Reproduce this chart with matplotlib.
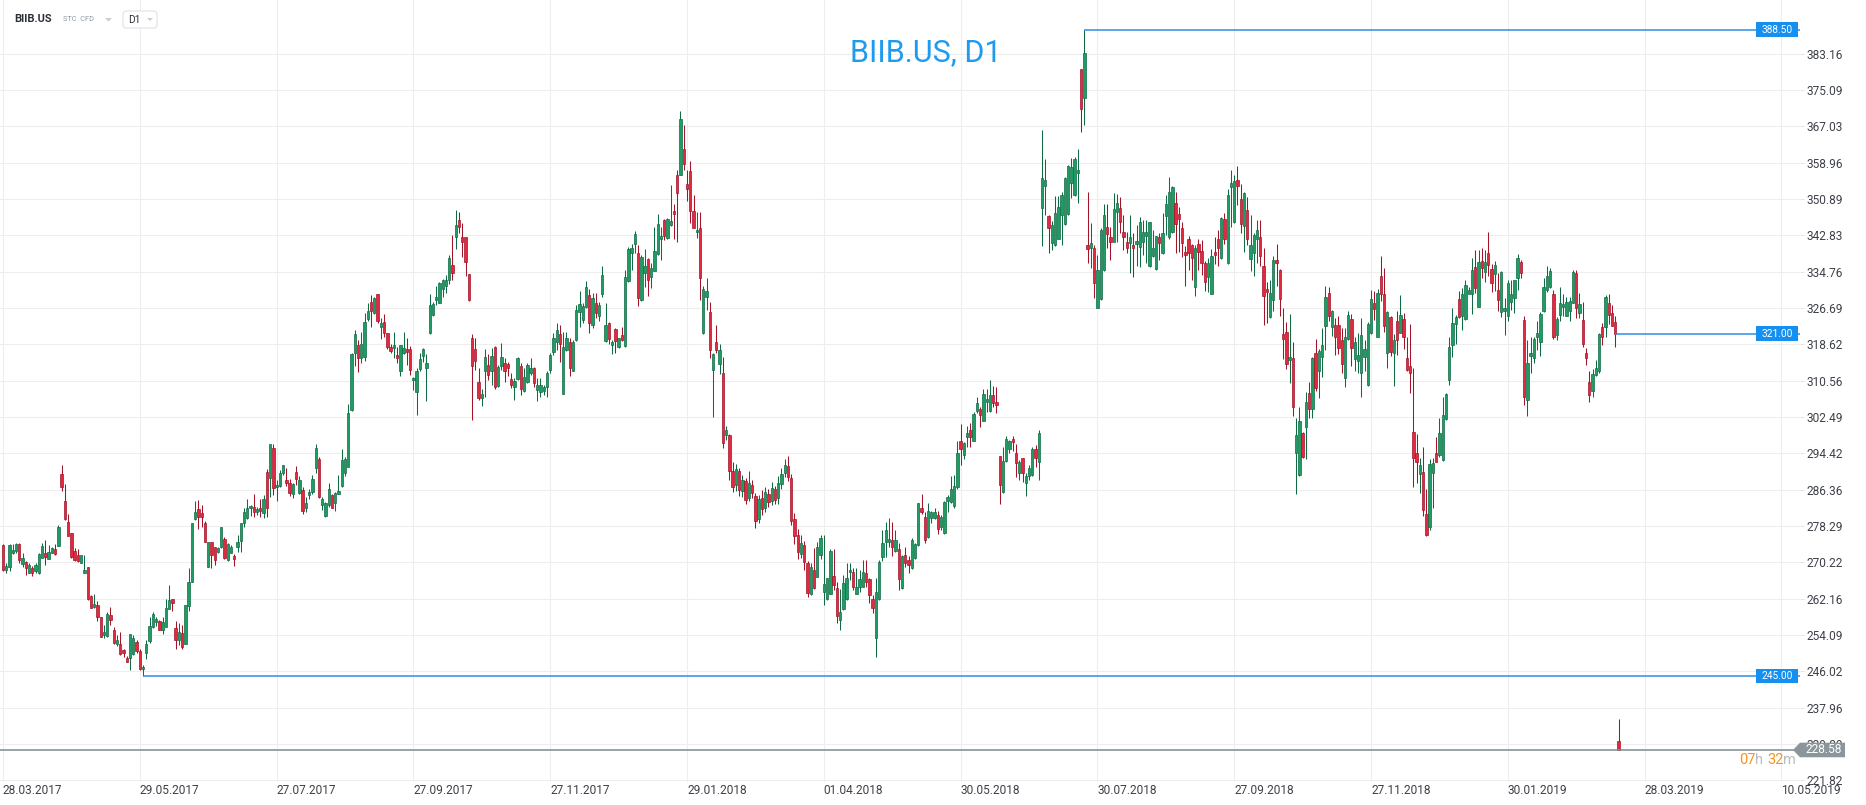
import matplotlib
matplotlib.use("Agg")
import matplotlib.pyplot as plt
import numpy as np
from matplotlib.patches import Polygon, Rectangle, FancyBboxPatch
from matplotlib.text import Annotation
from matplotlib.transforms import IdentityTransform

plt.rcParams['font.family'] = ['Roboto', 'DejaVu Sans']

# daily candles BIIB.US, 28.03.2017 .. 21.03.2019
opens = [
    274.1, 268.5, 269.1, 272.4, 272.8, 274.4, 269.9, 270.3, 267.9, 269.0,
    268.2, 267.8, 271.3, 272.4, 271.0, 272.4, 273.2, 273.9, 289.8, 283.8,
    279.1, 276.7, 272.8, 271.9, 270.0, 267.9, 269.1, 262.8, 260.4, 260.8,
    258.0, 254.2, 253.9, 258.5, 255.2, 252.2, 252.2, 250.8, 249.1, 249.1,
    249.9, 252.5, 250.5, 246.5, 250.0, 252.8, 255.9, 257.0, 257.2, 255.1,
    255.9, 259.9, 262.1, 255.6, 253.1, 254.5, 252.2, 260.5, 265.9, 279.8,
    282.1, 281.1, 278.9, 269.3, 274.7, 273.7, 272.6, 273.6, 275.3, 270.7,
    272.4, 271.6, 273.7, 275.0, 278.9, 280.0, 282.3, 282.6, 281.5, 282.2,
    281.1, 290.2, 288.9, 295.5, 287.0, 287.2, 290.0, 288.5, 287.8, 285.5,
    290.2, 285.7, 286.3, 282.2, 285.2, 285.9, 291.1, 293.1, 283.0, 280.5,
    282.9, 285.2, 283.5, 285.5, 287.2, 290.0, 291.3, 304.0, 316.8, 318.5,
    315.5, 315.9, 324.2, 328.0, 325.5, 329.8, 322.4, 323.6, 321.2, 318.0,
    317.7, 316.3, 312.8, 316.8, 317.5, 317.5, 310.6, 308.1, 313.1, 316.0,
    313.4, 321.1, 325.1, 328.5, 327.9, 330.8, 331.5, 332.9, 336.2, 342.5,
    346.2, 342.4, 342.4, 334.2, 320.0, 317.5, 310.3, 306.8, 312.6, 314.0,
    312.6, 318.0, 309.4, 313.8, 314.4, 314.3, 310.9, 309.2, 310.9, 313.8,
    308.3, 310.3, 312.3, 313.3, 308.5, 308.1, 308.3, 309.2, 312.9, 317.0,
    319.2, 320.9, 307.5, 317.4, 319.1, 312.7, 319.6, 325.9, 324.0, 327.0,
    329.6, 323.0, 327.7, 324.8, 329.9, 319.4, 323.3, 318.5, 322.0, 318.1,
    320.7, 318.3, 332.7, 338.8, 340.8, 339.0, 328.5, 334.4, 337.6, 333.6,
    334.9, 338.6, 342.0, 346.2, 342.3, 345.0, 348.2, 356.2, 356.2, 362.0,
    354.1, 357.1, 348.2, 343.5, 344.5, 321.1, 329.2, 325.9, 313.0, 319.2,
    314.2, 312.2, 298.4, 298.6, 290.5, 287.5, 290.5, 286.0, 288.2, 284.4,
    287.5, 285.0, 279.8, 284.5, 282.4, 285.5, 283.8, 286.5, 284.4, 287.6,
    290.0, 291.6, 289.0, 279.8, 276.2, 272.0, 274.0, 270.0, 263.3, 268.5,
    267.0, 271.9, 263.7, 262.0, 263.3, 267.2, 264.5, 257.4, 259.8, 262.0,
    268.0, 268.1, 263.3, 264.8, 264.8, 267.8, 266.5, 262.2, 253.4, 262.0,
    271.5, 274.8, 274.8, 275.2, 272.8, 273.1, 264.5, 271.9, 270.7, 268.9,
    271.1, 274.0, 282.2, 280.2, 275.8, 280.0, 280.0, 280.7, 278.0, 276.7,
    283.9, 283.7, 282.7, 286.9, 297.2, 294.1, 298.0, 299.6, 297.2, 303.9,
    304.2, 301.7, 305.9, 303.9, 307.4, 305.8, 293.8, 285.9, 292.8, 295.3,
    297.5, 294.4, 290.1, 293.3, 287.8, 289.4, 289.6, 295.3, 292.4, 348.8,
    353.7, 347.1, 341.2, 340.6, 342.1, 347.3, 345.3, 347.5, 354.5, 351.8,
    356.6, 379.7, 373.4, 340.7, 340.1, 339.9, 326.6, 328.6, 335.1, 344.6,
    342.4, 341.4, 347.9, 348.8, 343.6, 341.4, 341.2, 340.7, 340.9, 340.3,
    341.4, 342.7, 335.9, 338.2, 335.3, 342.4, 338.8, 347.0, 342.4, 343.6,
    350.1, 347.5, 344.4, 339.2, 341.9, 340.6, 331.4, 341.0, 339.3, 336.7,
    333.5, 329.9, 339.1, 342.1, 337.7, 346.4, 336.6, 353.6, 345.8, 355.2,
    350.8, 344.9, 348.4, 337.5, 339.0, 341.9, 342.4, 336.0, 331.0, 324.6,
    328.4, 337.3, 335.1, 321.0, 321.4, 315.1, 315.5, 294.4, 289.6, 298.9,
    300.2, 307.9, 304.2, 316.8, 312.8, 315.9, 322.6, 330.1, 322.4, 322.9,
    322.9, 319.6, 311.1, 319.7, 324.2, 315.3, 315.0, 312.3, 315.9, 309.6,
    321.1, 327.7, 320.3, 333.8, 329.8, 316.6, 324.6, 316.6, 323.7, 321.2,
    324.2, 315.5, 313.8, 299.2, 294.4, 289.8, 290.3, 280.9, 278.0, 290.0,
    294.6, 294.0, 292.9, 302.0, 310.6, 318.5, 323.1, 328.6, 324.8, 324.2,
    329.9, 329.8, 335.7, 326.8, 337.2, 334.7, 339.0, 335.3, 334.2, 330.7,
    325.9, 326.1, 324.9, 328.1, 328.8, 333.3, 337.0, 324.0, 306.3, 316.0,
    315.5, 320.3, 319.2, 326.1, 330.7, 331.3, 329.9, 320.7, 325.1, 327.0,
    324.9, 326.1, 327.9, 334.4, 325.5, 324.0, 316.8, 310.3, 308.3, 311.8,
    312.8, 322.4, 322.4, 327.7, 325.6, 323.6, 230.5,
]
highs = [
    274.3, 270.1, 274.4, 274.4, 274.6, 274.6, 272.4, 270.6, 270.1, 269.4,
    270.0, 272.2, 274.6, 275.2, 274.1, 273.7, 274.4, 278.5, 291.8, 287.6,
    281.0, 276.7, 273.3, 273.1, 271.9, 271.9, 269.1, 263.0, 263.3, 261.7,
    258.2, 256.3, 259.1, 260.4, 255.9, 254.1, 254.8, 250.9, 249.4, 254.3,
    254.1, 253.1, 251.1, 247.4, 253.0, 258.0, 259.3, 258.2, 257.4, 258.2,
    262.2, 265.2, 262.2, 257.1, 256.7, 256.3, 260.8, 268.9, 279.0, 283.9,
    284.1, 283.0, 279.3, 274.7, 274.7, 273.7, 273.7, 278.1, 275.8, 274.6,
    274.1, 272.1, 276.3, 279.0, 282.2, 284.2, 283.0, 285.5, 282.6, 284.2,
    285.2, 290.9, 296.6, 296.6, 288.5, 290.7, 291.8, 291.1, 288.7, 287.8,
    291.6, 289.3, 286.9, 284.8, 286.4, 289.6, 296.6, 293.7, 284.8, 283.7,
    287.9, 285.5, 285.9, 289.6, 295.3, 293.7, 305.4, 316.8, 321.9, 319.6,
    321.4, 325.5, 327.9, 329.6, 329.2, 329.8, 324.4, 325.4, 321.2, 318.8,
    321.4, 318.1, 318.4, 321.4, 320.0, 318.3, 311.4, 313.3, 316.8, 317.7,
    316.5, 329.9, 328.1, 331.6, 332.5, 333.1, 334.0, 338.5, 342.9, 348.4,
    348.1, 345.6, 342.5, 334.2, 320.9, 320.0, 313.3, 308.6, 317.5, 316.5,
    317.7, 318.3, 314.0, 319.0, 315.5, 314.6, 312.3, 311.1, 315.7, 314.4,
    313.3, 314.4, 315.5, 313.6, 311.1, 311.1, 309.6, 312.6, 316.8, 321.1,
    323.3, 322.9, 321.4, 321.3, 320.1, 319.6, 327.4, 330.5, 327.7, 332.7,
    330.9, 330.0, 330.0, 328.1, 335.9, 327.7, 323.5, 319.6, 322.2, 320.1,
    322.5, 335.1, 340.3, 341.0, 343.8, 340.7, 338.5, 339.8, 337.7, 336.6,
    344.7, 347.5, 344.7, 346.4, 346.6, 354.0, 349.7, 357.3, 370.4, 367.3,
    357.3, 359.3, 351.8, 347.9, 348.1, 331.6, 333.4, 328.1, 316.6, 322.9,
    318.6, 315.8, 300.6, 298.8, 292.5, 292.0, 291.2, 289.6, 289.0, 290.5,
    288.6, 285.6, 285.2, 286.2, 287.0, 286.4, 288.0, 287.2, 289.4, 291.2,
    293.2, 293.8, 289.8, 281.2, 277.6, 276.4, 275.0, 270.6, 270.0, 273.3,
    274.8, 276.3, 276.3, 266.7, 273.2, 273.1, 265.9, 264.2, 267.4, 270.1,
    270.0, 268.9, 268.9, 268.5, 270.7, 270.7, 266.7, 263.0, 266.7, 270.7,
    277.4, 279.2, 280.0, 279.1, 277.3, 274.6, 271.8, 273.7, 271.6, 275.6,
    274.6, 283.5, 285.4, 281.5, 283.3, 281.7, 282.4, 281.7, 280.7, 283.9,
    285.2, 289.4, 289.6, 297.2, 300.9, 297.0, 300.5, 301.2, 303.7, 307.0,
    304.6, 308.6, 308.6, 310.7, 309.4, 309.2, 293.8, 295.9, 298.3, 297.4,
    298.3, 296.6, 292.9, 293.3, 290.0, 291.8, 295.9, 296.3, 299.6, 366.2,
    359.7, 347.3, 346.1, 351.5, 351.5, 352.5, 355.8, 358.4, 359.9, 360.3,
    361.9, 379.7, 388.5, 352.5, 345.6, 340.7, 338.4, 344.4, 349.8, 349.8,
    344.7, 352.3, 352.0, 351.4, 347.3, 343.6, 347.3, 343.3, 345.1, 346.8,
    346.2, 346.2, 345.8, 344.1, 342.7, 343.3, 347.8, 351.8, 355.8, 353.8,
    352.5, 349.2, 345.8, 340.4, 342.7, 341.0, 340.6, 342.1, 341.8, 337.2,
    337.7, 339.7, 342.5, 344.0, 346.9, 347.7, 353.2, 357.3, 356.2, 358.1,
    354.3, 352.5, 351.4, 347.3, 343.3, 346.2, 346.2, 339.9, 332.5, 332.9,
    338.2, 340.9, 335.3, 326.6, 323.6, 325.3, 319.2, 302.2, 304.6, 299.2,
    308.1, 310.3, 315.9, 319.9, 317.5, 322.2, 331.6, 331.3, 326.2, 324.4,
    324.9, 322.2, 322.2, 326.1, 325.3, 320.3, 321.2, 324.4, 319.6, 323.6,
    330.7, 330.5, 330.8, 338.2, 335.5, 326.1, 324.8, 320.9, 326.1, 329.6,
    325.5, 320.3, 323.1, 313.3, 298.7, 293.3, 295.9, 286.4, 293.1, 293.3,
    298.0, 302.2, 306.9, 307.9, 320.2, 326.6, 325.1, 330.5, 331.1, 333.0,
    331.3, 337.7, 339.6, 339.6, 339.9, 339.6, 343.6, 336.5, 337.2, 334.4,
    335.0, 329.0, 333.0, 332.9, 333.0, 338.7, 337.3, 324.8, 319.6, 320.3,
    320.3, 323.7, 325.9, 333.3, 335.9, 335.5, 330.7, 324.6, 331.3, 329.8,
    329.1, 329.2, 335.1, 335.1, 330.1, 328.1, 317.7, 312.6, 313.1, 315.1,
    321.2, 323.4, 329.6, 329.8, 327.4, 324.9, 235.5,
]
lows = [
    268.3, 267.8, 268.2, 272.1, 272.2, 270.1, 269.3, 267.4, 267.9, 267.3,
    267.8, 267.6, 271.1, 269.6, 270.9, 272.2, 271.9, 273.9, 286.1, 279.6,
    276.1, 271.1, 270.6, 270.4, 270.0, 267.8, 261.9, 260.0, 260.2, 257.1,
    253.6, 253.4, 253.7, 256.3, 252.2, 251.7, 249.7, 249.3, 248.0, 246.3,
    249.7, 250.2, 246.3, 245.0, 248.7, 252.4, 255.7, 256.1, 255.1, 254.3,
    255.8, 259.8, 259.5, 251.0, 251.9, 251.0, 252.1, 259.5, 265.8, 279.6,
    277.6, 278.0, 274.7, 269.3, 268.9, 269.6, 272.2, 273.5, 270.9, 270.6,
    272.2, 269.5, 272.6, 272.6, 278.0, 279.8, 280.5, 280.2, 280.7, 280.2,
    280.1, 280.2, 284.8, 285.2, 283.9, 287.0, 289.6, 287.2, 285.0, 284.4,
    287.4, 285.4, 280.9, 281.3, 284.2, 285.5, 290.0, 284.4, 281.9, 280.4,
    282.6, 282.2, 281.7, 285.4, 287.0, 289.4, 291.3, 303.9, 313.8, 312.5,
    314.4, 315.0, 323.7, 322.5, 325.4, 323.4, 319.7, 320.3, 317.5, 316.6,
    315.5, 314.4, 311.6, 316.5, 314.0, 311.8, 308.5, 302.9, 312.6, 314.8,
    306.1, 320.9, 324.8, 327.4, 327.7, 329.2, 330.0, 332.0, 332.9, 339.7,
    343.4, 338.1, 333.8, 328.3, 301.8, 312.9, 306.3, 304.9, 307.0, 310.6,
    309.6, 308.6, 309.2, 312.9, 310.3, 311.6, 308.9, 306.3, 310.7, 307.4,
    308.1, 310.0, 311.8, 309.2, 306.1, 307.0, 307.4, 307.0, 312.2, 316.3,
    317.4, 314.8, 307.5, 317.1, 311.5, 312.6, 319.4, 322.5, 323.3, 326.6,
    321.1, 322.3, 324.4, 323.8, 329.2, 319.2, 318.6, 316.4, 316.8, 317.7,
    319.4, 318.1, 332.5, 335.1, 339.0, 327.2, 328.2, 331.4, 329.4, 331.1,
    334.8, 338.5, 337.3, 341.8, 342.0, 344.8, 342.0, 341.3, 356.1, 357.3,
    350.5, 345.5, 344.4, 342.2, 328.5, 320.9, 326.3, 315.5, 302.4, 316.6,
    312.0, 295.5, 297.4, 288.6, 285.8, 286.0, 285.0, 284.8, 283.2, 283.8,
    284.4, 277.8, 279.0, 280.8, 281.5, 282.6, 283.0, 283.2, 283.2, 286.6,
    289.2, 288.2, 278.6, 274.2, 271.0, 271.2, 268.6, 262.5, 263.0, 264.2,
    266.9, 270.9, 260.8, 261.9, 263.2, 264.1, 256.8, 255.1, 259.6, 261.9,
    266.2, 264.1, 263.2, 263.7, 264.7, 264.8, 261.3, 258.9, 249.3, 261.9,
    270.6, 271.5, 273.7, 271.6, 272.6, 264.1, 264.2, 269.1, 267.9, 268.7,
    270.9, 273.8, 280.9, 274.6, 275.6, 278.9, 279.8, 276.5, 277.3, 276.5,
    281.3, 283.5, 282.4, 286.6, 291.8, 293.1, 295.9, 295.8, 297.2, 303.3,
    300.3, 301.5, 303.7, 303.7, 304.6, 303.4, 283.2, 285.7, 292.6, 294.4,
    295.0, 289.2, 288.4, 288.1, 284.9, 288.5, 289.4, 291.5, 288.5, 340.4,
    347.3, 339.0, 339.6, 340.4, 341.9, 340.7, 345.1, 347.3, 351.2, 351.5,
    349.9, 365.8, 367.3, 336.7, 335.5, 329.0, 326.6, 328.4, 334.9, 340.1,
    337.3, 341.4, 341.4, 343.3, 339.6, 339.0, 334.5, 333.6, 336.0, 335.7,
    338.4, 336.6, 335.7, 337.9, 335.1, 337.3, 338.7, 342.9, 342.1, 343.4,
    339.0, 339.2, 338.1, 331.6, 335.1, 332.9, 329.4, 335.1, 334.0, 330.5,
    330.3, 329.8, 336.4, 335.9, 337.5, 340.9, 336.4, 344.7, 345.6, 349.5,
    343.4, 339.2, 340.7, 334.9, 333.8, 336.6, 336.0, 322.9, 323.4, 324.4,
    326.1, 331.6, 324.9, 315.3, 313.1, 310.0, 302.7, 285.5, 289.4, 293.3,
    293.1, 302.2, 302.2, 308.3, 306.6, 311.4, 317.4, 323.7, 320.5, 316.2,
    316.5, 312.3, 309.2, 319.6, 313.8, 312.8, 312.3, 306.9, 312.6, 309.4,
    320.9, 324.0, 320.3, 328.3, 321.4, 313.3, 316.0, 309.4, 316.2, 321.1,
    317.5, 312.8, 307.9, 286.9, 287.8, 285.7, 280.5, 276.1, 277.3, 282.2,
    292.4, 293.7, 292.8, 301.8, 309.6, 315.7, 318.7, 324.4, 321.9, 324.0,
    329.8, 325.4, 330.1, 326.8, 333.3, 332.5, 333.8, 330.3, 330.5, 326.1,
    324.6, 320.7, 323.9, 326.2, 325.5, 330.7, 333.3, 305.2, 302.6, 312.2,
    314.4, 317.4, 316.0, 325.9, 330.3, 331.1, 319.9, 319.6, 323.9, 324.9,
    324.8, 323.9, 327.7, 324.4, 324.4, 318.1, 314.0, 305.9, 307.0, 311.6,
    312.2, 318.5, 320.3, 323.1, 322.7, 318.1, 228.5,
]
closes = [
    268.5, 269.4, 274.1, 273.0, 274.3, 270.7, 271.1, 268.9, 269.6, 267.8,
    269.6, 272.1, 273.9, 271.5, 272.6, 273.5, 272.1, 278.0, 286.9, 279.8,
    276.1, 271.5, 270.7, 270.6, 271.9, 268.5, 262.0, 260.2, 261.0, 258.2,
    253.7, 254.8, 258.8, 257.4, 252.4, 253.0, 249.8, 250.2, 248.2, 254.3,
    253.4, 250.5, 246.5, 247.0, 252.1, 256.2, 258.8, 257.6, 255.2, 257.0,
    260.2, 261.9, 261.3, 253.0, 254.8, 251.5, 260.8, 265.8, 278.9, 281.4,
    280.4, 280.4, 274.8, 274.7, 271.9, 270.7, 273.3, 278.1, 271.1, 274.3,
    273.7, 271.0, 274.7, 278.9, 281.3, 282.4, 282.7, 281.4, 282.1, 281.7,
    284.2, 282.4, 296.6, 286.8, 287.4, 290.1, 291.8, 287.9, 285.7, 287.6,
    288.7, 288.5, 281.6, 283.5, 285.9, 288.7, 295.5, 284.7, 284.2, 283.3,
    286.6, 282.4, 285.6, 286.0, 292.9, 293.2, 303.4, 316.5, 320.9, 315.5,
    318.8, 323.6, 326.1, 326.1, 328.9, 323.9, 323.4, 321.1, 318.1, 317.2,
    318.5, 315.5, 318.4, 317.7, 317.0, 312.9, 311.1, 312.6, 315.3, 317.5,
    314.4, 327.4, 327.6, 329.2, 332.2, 332.9, 333.0, 337.7, 334.5, 345.1,
    344.7, 341.4, 336.8, 328.5, 313.7, 315.0, 306.6, 307.7, 315.7, 311.8,
    316.0, 309.1, 313.5, 315.7, 312.8, 313.3, 309.6, 310.5, 315.5, 308.6,
    311.4, 314.0, 313.3, 310.0, 309.5, 309.6, 309.2, 312.2, 316.3, 320.0,
    321.8, 318.8, 318.1, 320.0, 313.4, 319.1, 326.2, 327.5, 327.2, 331.4,
    323.3, 328.8, 325.5, 327.4, 334.0, 322.9, 319.9, 319.2, 319.4, 320.0,
    319.6, 333.6, 339.8, 340.1, 343.0, 328.8, 338.1, 336.1, 332.9, 335.6,
    339.3, 345.3, 342.7, 342.6, 346.5, 346.0, 347.6, 352.1, 368.6, 358.6,
    353.1, 348.2, 344.5, 344.0, 333.3, 331.0, 330.5, 317.4, 316.4, 317.4,
    317.4, 296.8, 299.6, 290.5, 287.0, 291.0, 286.2, 288.5, 284.0, 287.8,
    285.6, 279.5, 284.2, 282.0, 285.8, 283.6, 286.8, 284.0, 287.9, 289.8,
    291.8, 289.2, 279.5, 276.0, 272.5, 274.5, 270.2, 263.5, 269.1, 264.5,
    273.6, 275.6, 265.4, 266.7, 272.8, 265.2, 258.3, 259.1, 265.7, 266.7,
    268.5, 264.8, 264.8, 266.5, 268.1, 265.9, 263.0, 260.2, 263.6, 270.4,
    274.6, 277.3, 275.3, 273.6, 275.2, 266.5, 271.6, 270.0, 269.6, 275.2,
    274.3, 283.3, 281.5, 275.2, 281.7, 281.3, 281.3, 277.6, 280.4, 283.7,
    284.8, 286.6, 287.2, 294.4, 295.3, 296.8, 299.0, 298.1, 303.2, 305.5,
    302.9, 307.6, 306.4, 307.4, 305.5, 305.2, 287.4, 292.8, 297.5, 297.2,
    297.0, 292.2, 292.6, 290.0, 289.4, 291.1, 295.3, 293.3, 298.9, 355.5,
    355.0, 344.4, 345.1, 347.7, 349.0, 351.8, 355.5, 358.2, 357.9, 359.7,
    357.3, 370.8, 383.2, 339.7, 341.2, 332.3, 335.1, 344.1, 347.3, 343.1,
    341.4, 348.6, 349.9, 345.8, 342.5, 339.9, 342.4, 339.9, 341.6, 345.8,
    343.6, 343.6, 345.8, 339.9, 342.7, 341.2, 343.3, 349.8, 352.5, 353.5,
    345.3, 346.5, 341.2, 338.4, 338.8, 337.7, 340.1, 339.2, 336.6, 332.5,
    336.6, 338.2, 338.4, 339.9, 346.6, 341.9, 351.8, 354.5, 354.9, 353.8,
    345.3, 352.3, 342.1, 340.7, 342.9, 344.1, 338.2, 329.3, 330.3, 330.1,
    337.3, 336.6, 328.6, 319.9, 314.2, 315.7, 304.8, 298.5, 301.7, 293.7,
    305.9, 304.2, 315.5, 308.9, 317.2, 318.4, 329.1, 324.9, 326.1, 320.2,
    317.7, 314.3, 320.2, 325.1, 317.7, 319.2, 316.2, 320.7, 317.5, 323.1,
    328.6, 326.4, 330.1, 329.8, 322.7, 325.9, 317.0, 319.6, 319.6, 325.1,
    320.2, 312.9, 312.2, 293.3, 292.6, 291.8, 281.9, 276.3, 292.0, 292.2,
    292.6, 298.9, 302.9, 307.7, 318.1, 323.3, 324.6, 324.6, 329.9, 331.8,
    330.7, 335.1, 331.1, 337.0, 335.5, 337.0, 336.2, 332.2, 336.2, 328.5,
    334.7, 326.6, 332.2, 329.9, 332.8, 337.7, 334.4, 307.0, 314.4, 316.8,
    319.7, 321.1, 325.4, 331.3, 333.8, 335.0, 320.3, 324.2, 327.9, 327.6,
    328.1, 328.3, 334.7, 326.6, 327.6, 318.8, 315.5, 307.4, 312.0, 313.3,
    320.9, 320.3, 329.2, 325.1, 322.7, 321.0, 228.58,
]

date_labels = ['28.03.2017', '29.05.2017', '27.07.2017', '27.09.2017', '27.11.2017',
               '29.01.2018', '01.04.2018', '30.05.2018', '30.07.2018', '27.09.2018',
               '27.11.2018', '30.01.2019', '28.03.2019', '10.05.2019']
bars_per_label = 42
price_ticks = [221.82, 229.89, 237.96, 246.02, 254.09, 262.16, 270.22, 278.29,
               286.36, 294.42, 302.49, 310.56, 318.62, 326.69, 334.76, 342.83,
               350.89, 358.96, 367.03, 375.09, 383.16]
levels = [388.50, 245.00, 321.00]
countdown = ['07', 'h ', '32', 'm']

o = np.array(opens)
h = np.array(highs)
l = np.array(lows)
c = np.array(closes)
n = len(c)
x = np.arange(n)

W, H = 1866, 805
fig = plt.figure(figsize=(W / 100, H / 100), dpi=100)
fig.patch.set_facecolor('white')
ax = fig.add_axes([0, 23 / H, 1800 / W, 782 / H])
ax.set_xlim(-0.92, 551.7)
ax.set_ylim(221.47, 395.05)
for s in ax.spines.values():
    s.set_visible(False)

# grid + axis labels
date_pos = np.arange(len(date_labels)) * bars_per_label
ax.set_xticks(date_pos)
ax.set_xticklabels(date_labels)
ax.set_yticks(price_ticks)
ax.set_yticklabels(['%.2f' % v for v in price_ticks])
ax.grid(True, color='#eeeeee', lw=0.75, zorder=0)
ax.set_axisbelow(True)
ax.yaxis.tick_right()
ax.tick_params(axis='y', length=3, width=0.7, color='#e4e4e4', pad=2,
               labelsize=8.6, labelcolor='#3d4148')
ax.tick_params(axis='x', length=0, pad=1.6, labelsize=8.6, labelcolor='#3d4148')
for lbl in ax.get_xticklabels():
    lbl.set_ha('left')

# candles
up = c >= o
green_fill, green_edge = '#1f9b64', '#0f6b44'
red_fill, red_edge = '#e22a3e', '#a3132a'
wick_col = np.where(up, green_edge, red_edge)
ax.vlines(x, l, h, colors=wick_col, lw=0.75, zorder=2)
body = np.maximum(np.abs(c - o), 0.25)
ax.bar(x, body, bottom=np.minimum(o, c), width=0.72,
       color=np.where(up, green_fill, red_fill),
       edgecolor=np.where(up, green_edge, red_edge), linewidth=0.5, zorder=3)

# horizontal levels (top, bottom, last close before the gap)
starts = [int(np.argmax(h)), int(np.argmin(l[:-1])), n - 2]
line_blue = '#2d8de4'
box_blue = '#1590f0'
for lev, st in zip(levels, starts):
    ax.hlines(lev, st, 551.7, color=line_blue, lw=1.1, zorder=4)

# current price line
ax.axhline(c[-1], color='#7f8b91', lw=1.1, zorder=4)

fig.canvas.draw()
ident = IdentityTransform()


def ypix(v):
    return ax.transData.transform((0, v))[1]


for lev in levels:
    yp = ypix(lev)
    fig.add_artist(Rectangle((1756, yp - 7.3), 42, 14.6, transform=ident,
                             facecolor=box_blue, edgecolor='none', zorder=6))
    fig.text(1777 / W, yp / H, '%.2f' % lev, color='white', fontsize=7.3,
             ha='center', va='center', zorder=7)

# price tag for the current price
yp = ypix(c[-1])
tag = Polygon([(1793, yp), (1800, yp + 7.3), (1845, yp + 7.3), (1845, yp - 7.3),
               (1800, yp - 7.3)], closed=True, transform=ident,
              facecolor='#8a969c', edgecolor='none', zorder=6)
fig.add_artist(tag)
fig.text(1824 / W, yp / H, '%.2f' % c[-1], color='white', fontsize=8.6,
         ha='center', va='center', zorder=7)

# countdown under the tag: digits orange, units grey
prev = fig.text(1739 / W, (yp - 10) / H, countdown[0], color='#f7941d',
                fontsize=10.5, ha='left', va='center', zorder=7)
for i, part in enumerate(countdown[1:], start=1):
    col = '#f7941d' if i % 2 == 0 else '#b9bdc1'
    ann = Annotation(part, xy=(1, 0), xycoords=prev, ha='left', va='bottom',
                     color=col, fontsize=10.5, annotation_clip=False, zorder=7)
    fig.add_artist(ann)
    prev = ann

# title
fig.text(926 / W, 1 - 53 / H, 'BIIB.US, D1', color='#1e9bee', fontsize=22,
         ha='center', va='center')

# header widgets (top-left)
fig.text(14 / W, 1 - 19 / H, 'BIIB.US', color='#2b2f36', fontsize=8,
         fontweight='bold', ha='left', va='center')
fig.text(63 / W, 1 - 19.5 / H, 'STC  CFD', color='#8e99a4', fontsize=5.3,
         ha='left', va='center')
fig.add_artist(Polygon([(105, H - 18), (112, H - 18), (108.5, H - 21.5)],
                       closed=True, transform=ident, facecolor='#c8cdd2',
                       edgecolor='none'))
fig.add_artist(FancyBboxPatch((123, H - 28), 34, 17, boxstyle='round,pad=0,rounding_size=3',
                              transform=ident, facecolor='white',
                              edgecolor='#dde1e5', lw=0.8))
fig.text(128 / W, 1 - 20 / H, 'D1', color='#2b2f36', fontsize=7.3,
         ha='left', va='center')
fig.add_artist(Polygon([(147, H - 18), (153, H - 18), (150, H - 21)],
                       closed=True, transform=ident, facecolor='#c8cdd2',
                       edgecolor='none'))

fig.savefig('out.png', dpi=100, facecolor='white')
